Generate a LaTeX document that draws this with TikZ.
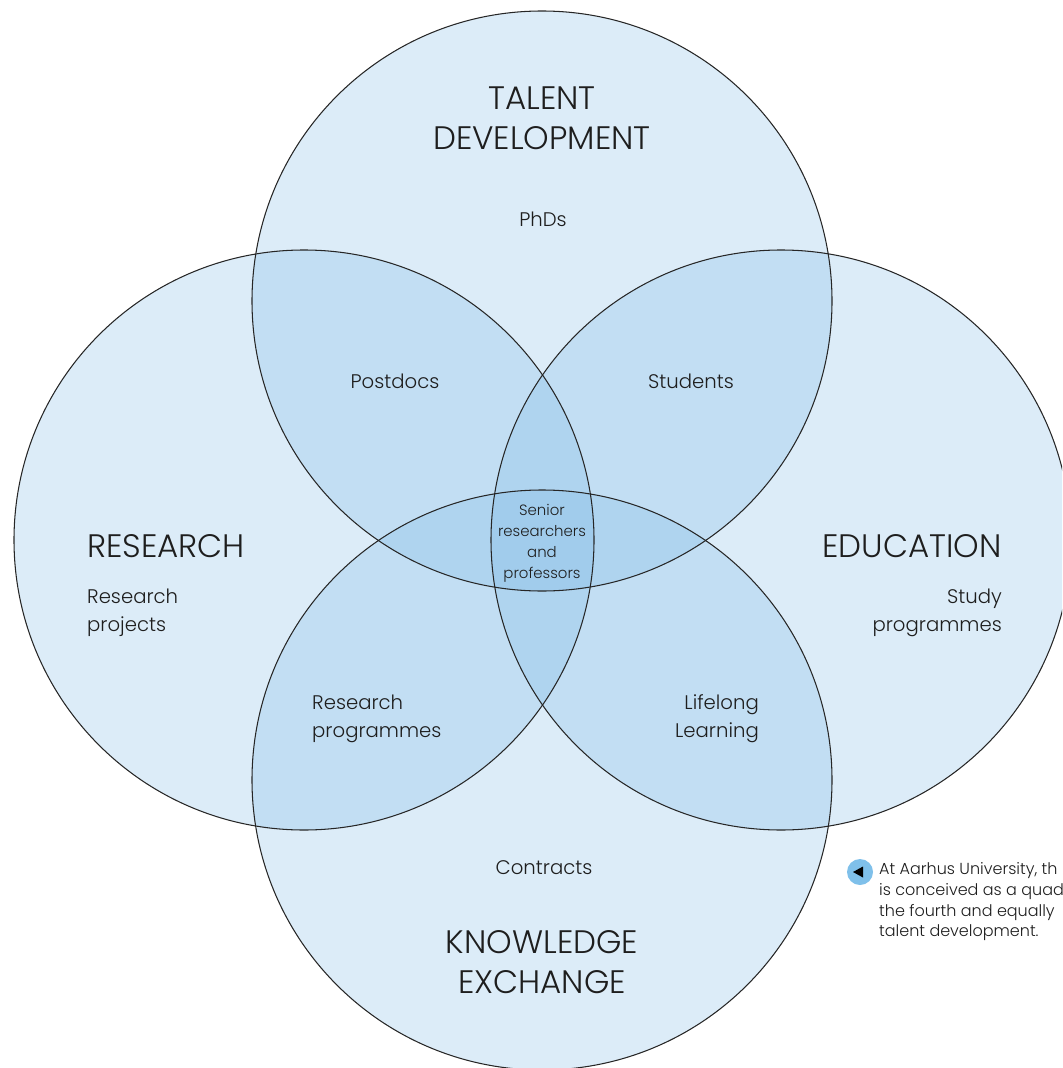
\documentclass[tikz,border=0pt]{standalone}
\usepackage{fontspec}
\setmainfont{Poppins}[UprightFont={* Light}]
\definecolor{circleblue}{RGB}{120,182,228}
\definecolor{markblue}{RGB}{127,192,234}
\definecolor{textgray}{RGB}{30,30,30}
\tikzset{
    area/.style={fill=circleblue, fill opacity=0.26},
    rim/.style={draw=black!85, line width=0.6pt},
    head/.style={align=center, text=textgray, font=\fontsize{18.5}{22.5}\selectfont},
    item/.style={text=textgray, font=\fontsize{11.2}{15.8}\selectfont},
    small/.style={align=center, text=textgray, font=\fontsize{8.5}{11.9}\selectfont},
}
\begin{document}
\begin{tikzpicture}[x=0.02cm, y=-0.02cm]
            \useasboundingbox (0,0) rectangle (1062,1068);
            \clip (0,0) rectangle (1062,1068);

            % the four fields
            \fill[area] (542,301) circle (290);
            \fill[area] (304,540) circle (290);
            \fill[area] (781,540) circle (290);
            \fill[area] (542,780) circle (290);

            \draw[rim] (542,301) circle (290);
            \draw[rim] (304,540) circle (290);
            \draw[rim] (781,540) circle (290);
            \draw[rim] (542,780) circle (290);

            % headings
            \node[head] (talent) at (542,118) {TALENT\\DEVELOPMENT};
            \node[head, anchor=west] (research) at (81,546) {RESEARCH};
            \node[head, anchor=east] (education) at (1008,546) {EDUCATION};
            \node[head] (knowledge) at (542,962) {KNOWLEDGE\\EXCHANGE};

            % contents
            \node[item] (phds) at (543,219) {PhDs};
            \node[item] (postdocs) at (395,381) {Postdocs};
            \node[item] (students) at (691,381) {Students};
            \node[item, align=left, anchor=west] (projects) at (81,613) {Research\\projects};
            \node[item, align=right, anchor=east] (study) at (1008,613) {Study\\programmes};
            \node[item, align=left, anchor=west] (programmes) at (306,719) {Research\\programmes};
            \node[item, align=right, anchor=east] (lifelong) at (765,719) {Lifelong\\Learning};
            \node[item] (contracts) at (544,868) {Contracts};
            \node[small] (senior) at (542,543) {Senior\\researchers\\and\\professors};

            % side note
            \node[circle, fill=markblue, minimum size=26*0.02cm, inner sep=0pt] (mark) at (860,872) {};
            \fill[black, shift={(mark.center)}] (-7,0) -- (3,-5.5) -- (3,5.5) -- cycle;
            \node[item, font=\fontsize{9.1}{11.9}\selectfont, align=left, anchor=north west] (note) at (873,856)
                {At Aarhus University, th\\is conceived as a quad\\the fourth and equally\\talent development.};
        \end{tikzpicture}
\end{document}
